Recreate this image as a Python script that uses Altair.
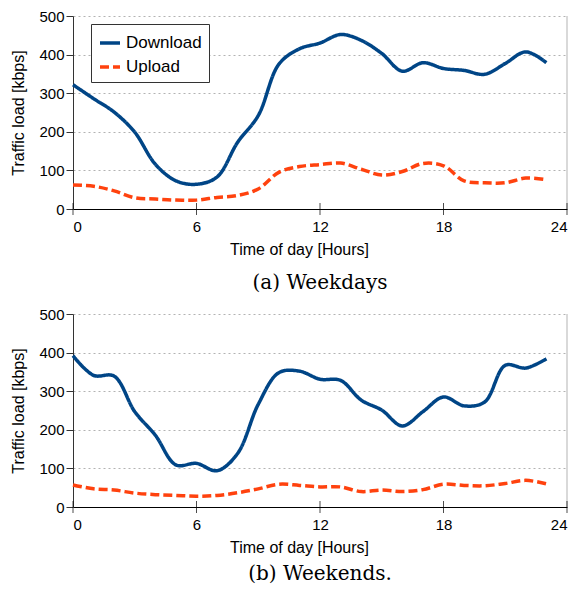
import altair as alt
import pandas as pd

hours = list(range(24))
weekday_download = [322, 286, 251, 199, 116, 73, 64, 83, 173, 242, 375, 415,
                    430, 452, 437, 403, 357, 379, 364, 359, 349, 377, 407, 379]
weekday_upload = [62, 59, 47, 29, 26, 23, 23, 30, 35, 52, 95, 110,
                  115, 119, 103, 88, 97, 118, 112, 73, 68, 68, 80, 76]
weekend_download = [392, 341, 339, 247, 186, 109, 113, 94, 139, 266, 348, 352,
                    331, 328, 277, 251, 210, 247, 285, 262, 272, 367, 360, 384]
weekend_upload = [57, 47, 44, 36, 32, 30, 28, 30, 37, 47, 59, 56,
                  52, 52, 40, 44, 40, 45, 59, 56, 55, 61, 69, 60]

series_names = ["Download", "Upload"]
series_colors = ["#004586", "#ff420e"]
series_dash = [[1, 0], [9, 4]]
x_ticks = [0, 6, 12, 18, 24]
y_ticks = [0, 100, 200, 300, 400, 500]
titles = ["(a) Weekdays", "(b) Weekends."]

FONT = "Liberation Sans"
W, H = 494, 193


def long_df(down, up):
    return pd.DataFrame({
        "hour": hours + hours,
        "load": down + up,
        "series": ["Download"] * len(hours) + ["Upload"] * len(hours),
    })


x_scale = alt.Scale(domain=[0, 24], nice=False)
y_scale = alt.Scale(domain=[0, 500], nice=False)
x_axis = alt.Axis(values=x_ticks, title="Time of day [Hours]", grid=False,
                  ticks=False, labelPadding=10, labelOverlap=False,
                  domainColor="black", labelColor="black",
                  labelFont=FONT, labelFontSize=15,
                  titleFont=FONT, titleFontSize=16, titleFontWeight="normal",
                  titleColor="black", titleX=226, titlePadding=7)
y_axis = alt.Axis(values=y_ticks, title="Traffic load [kbps]", grid=True,
                  gridDash=[2, 3], gridColor="#b3b3b3", tickSize=7,
                  tickColor="#333333", domainColor="#333333",
                  labelColor="black", labelPadding=2, labelOverlap=False,
                  labelFont=FONT, labelFontSize=15,
                  titleFont=FONT, titleFontSize=16, titleFontWeight="normal",
                  titleColor="black", titlePadding=12)


def panel(df, title, lx, ly, title_offset):
    legend = alt.Legend(
        title=None, orient="none", legendX=lx, legendY=ly,
        symbolType="stroke", symbolSize=400, symbolStrokeWidth=3.5,
        labelFont=FONT, labelFontSize=17, labelColor="black", labelOffset=4,
        strokeColor="#333333", fillColor="white", padding=7, rowPadding=4,
    )
    lines = alt.Chart(df).mark_line(strokeWidth=3.5, interpolate="catmull-rom").encode(
        x=alt.X("hour:Q", scale=x_scale, axis=x_axis),
        y=alt.Y("load:Q", scale=y_scale, axis=y_axis),
        color=alt.Color("series:N", scale=alt.Scale(domain=series_names, range=series_colors),
                        legend=legend),
        strokeDash=alt.StrokeDash("series:N", scale=alt.Scale(domain=series_names, range=series_dash),
                                  legend=legend),
    )
    border = alt.Chart(pd.DataFrame({"x": [24]})).mark_rule(color="#b3b3b3", strokeWidth=1).encode(
        x=alt.X("x:Q", scale=x_scale, axis=x_axis),
        y=alt.YDatum(0, scale=y_scale, axis=y_axis),
        y2=alt.Y2Datum(500))
    ticks = alt.Chart(pd.DataFrame({"x": x_ticks})).mark_tick(
        color="black", size=12, thickness=1).encode(
        x=alt.X("x:Q", scale=x_scale, axis=x_axis),
        y=alt.YDatum(0, scale=y_scale, axis=y_axis))
    return alt.layer(border, lines, ticks).properties(
        width=W, height=H,
        title=alt.TitleParams(title, orient="bottom", font="DejaVu Serif", fontSize=20,
                              fontWeight="normal", color="black", offset=title_offset),
    )


top = panel(long_df(weekday_download, weekday_upload), titles[0], 18, 8, 16)
bottom = panel(long_df(weekend_download, weekend_upload), titles[1], 59, 7, 9)

chart = alt.vconcat(top, bottom, spacing=14).properties(
    padding={"top": 1, "left": 2, "right": 0, "bottom": 0}
).configure_view(stroke=None)

chart.save("out.html", embed_options={"renderer": "svg", "actions": False})
